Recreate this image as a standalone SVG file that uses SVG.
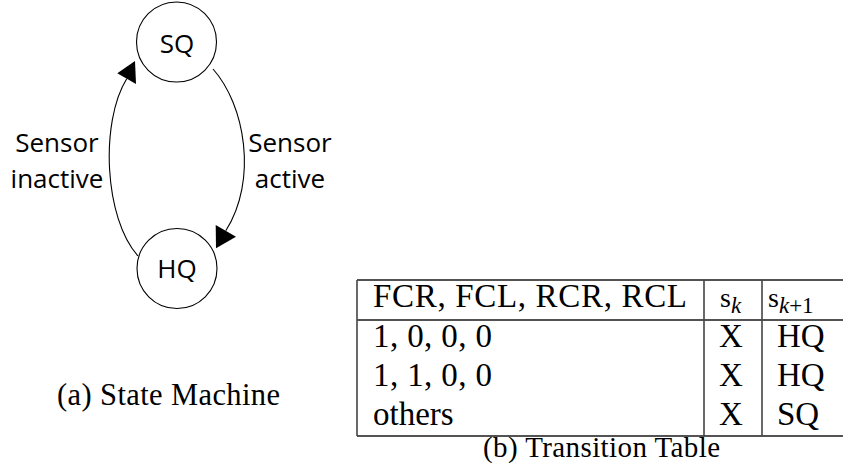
<svg xmlns="http://www.w3.org/2000/svg" width="843" height="468" viewBox="0 0 843 468">
  <style>
    .state { fill: #ffffff; stroke: #000000; stroke-width: 1.1; }
    .sans { font-family: "Open Sans", "Noto Sans", sans-serif; font-size: 26px; fill: #000000; }
    .serif { font-family: "Liberation Serif", "Times New Roman", serif; fill: #000000; }
    .cell { font-size: 33px; }
    .sub { font-size: 23px; }
    .caption { font-size: 29px; }
    .edge { fill: none; stroke: #000000; stroke-width: 1.1; }
    .head { fill: #000000; stroke: none; }
    .hrule { stroke: #1a1a1a; stroke-width: 1.6; }
    .vrule { stroke: #444444; stroke-width: 1.6; }
  </style>

  <rect width="843" height="468" fill="#ffffff"/>

  <!-- state machine -->
  <g id="connectors">
    <!-- HQ -> SQ : sensor inactive -->
    <path class="edge" d="M138,256 C104,218 100,122 126.7,78.7"/>
    <polygon class="head" points="135,61 117.3,73.3 136,84"/>
    <!-- SQ -> HQ : sensor active -->
    <path class="edge" d="M213,69 C245,105 258,180 225.8,230.8"/>
    <polygon class="head" points="216,248.3 215.7,225 236,236.7"/>
  </g>

  <g id="state-SQ">
    <circle class="state" cx="176.5" cy="42" r="40"/>
    <text class="sans" x="177" y="53" text-anchor="middle">SQ</text>
  </g>

  <g id="state-HQ">
    <circle class="state" cx="177" cy="268.5" r="40"/>
    <text class="sans" x="177" y="278" text-anchor="middle">HQ</text>
  </g>

  <g id="label-inactive">
    <text class="sans" x="57" y="152" text-anchor="middle">Sensor</text>
    <text class="sans" x="57" y="188" text-anchor="middle">inactive</text>
  </g>

  <g id="label-active">
    <text class="sans" x="290" y="152" text-anchor="middle">Sensor</text>
    <text class="sans" x="290" y="188" text-anchor="middle">active</text>
  </g>

  <g id="caption-a">
    <text class="serif" x="57" y="405" font-size="30.5" textLength="223" lengthAdjust="spacing">(a) State Machine</text>
  </g>

  <!-- transition table -->
  <g id="transition-table">
    <line class="hrule" x1="357" y1="280" x2="843" y2="280"/>
    <line class="hrule" x1="357" y1="320" x2="843" y2="320"/>
    <line class="hrule" x1="357" y1="436" x2="843" y2="436"/>
    <line class="vrule" x1="357" y1="280" x2="357" y2="436"/>
    <line class="vrule" x1="704" y1="280" x2="704" y2="436"/>
    <line class="vrule" x1="762" y1="280" x2="762" y2="436"/>

    <text class="serif cell" x="373" y="307" textLength="314" lengthAdjust="spacing">FCR, FCL, RCR, RCL</text>
    <text class="serif" x="720" y="307" font-size="28">s<tspan class="sub" font-style="italic" dy="6">k</tspan></text>
    <text class="serif" x="768" y="307" font-size="28">s<tspan class="sub" dy="6"><tspan font-style="italic">k</tspan>+1</tspan></text>

    <text class="serif cell" x="373" y="347" textLength="119" lengthAdjust="spacing">1, 0, 0, 0</text>
    <text class="serif cell" x="731" y="347" text-anchor="middle">X</text>
    <text class="serif cell" x="777" y="347">HQ</text>

    <text class="serif cell" x="373" y="386" textLength="119" lengthAdjust="spacing">1, 1, 0, 0</text>
    <text class="serif cell" x="731" y="386" text-anchor="middle">X</text>
    <text class="serif cell" x="777" y="386">HQ</text>

    <text class="serif cell" x="373" y="425">others</text>
    <text class="serif cell" x="731" y="425" text-anchor="middle">X</text>
    <text class="serif cell" x="777" y="425">SQ</text>
  </g>

  <g id="caption-b">
    <text class="serif caption" x="483" y="457" textLength="237" lengthAdjust="spacing">(b) Transition Table</text>
  </g>
</svg>
